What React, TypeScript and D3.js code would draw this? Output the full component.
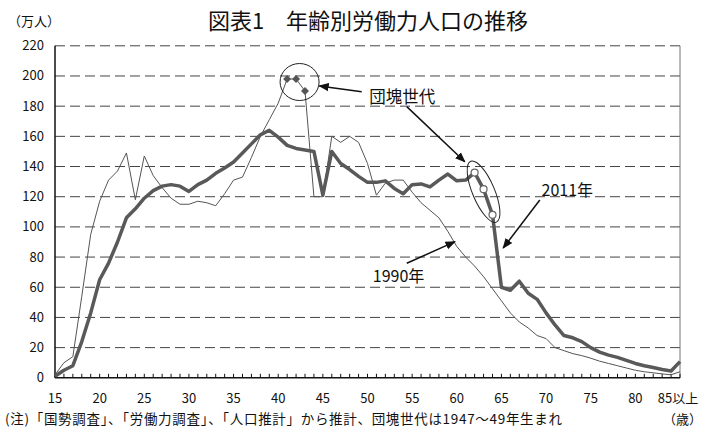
import React from "react";
import * as d3 from "d3";

// ages 15 .. 85 (85 = 85以上)
const ages = d3.range(15, 86);

// 労働力人口 (万人)
const pop1990 = [
  2, 10, 14, 54, 95, 117, 131, 137, 149, 118,
  147, 134, 126, 119, 115, 115, 117, 116, 114, 122,
  131, 133, 146, 160, 171, 182, 198, 198, 190, 120,
  120, 160, 156, 160, 156, 142, 121, 129, 131, 131,
  123, 116, 111, 106, 97, 87, 80, 74, 67, 59,
  51, 43, 37, 33, 28, 26, 20, 18, 16, 14.7,
  13, 11, 9.5, 8, 6.5, 5, 4, 3.3, 2.6, 2,
  4,
];

const pop2011 = [
  1, 5, 8, 24, 43, 65, 76, 90, 106, 112,
  119, 124, 127, 128, 127, 123.5, 128, 131, 135.5, 139,
  143, 149, 155, 161, 164, 159.5, 154, 152, 151, 150,
  121, 150, 142, 138, 133.5, 129.5, 129.5, 130.5, 125.5, 122,
  128, 128.5, 126.5, 131, 135, 130.5, 131, 136, 125, 108,
  60, 58, 64, 56, 52, 43, 35, 28, 26.5, 24,
  20, 17, 15, 13.5, 11.5, 9.5, 8, 6.8, 5.5, 4.5,
  10.7,
];

// 団塊世代 (1947〜49年生まれ)
const boom1990 = [41, 42, 43];
const boom2011 = [62, 63, 64];

const yTicks = [0, 20, 40, 60, 80, 100, 120, 140, 160, 180, 200, 220];
const xLabelAges = [15, 20, 25, 30, 35, 40, 45, 50, 55, 60, 65, 70, 75, 80, 85];

const FONT = "'Noto Sans CJK JP', 'Noto Sans', sans-serif";

export default function App() {
  const W = 715;
  const H = 428;

  const x = d3.scaleLinear().domain([15, 85]).range([55, 680]);
  const y = d3.scaleLinear().domain([0, 220]).range([377.8, 45.8]);

  const line = d3
    .line<number>()
    .x((_, i) => x(ages[i]))
    .y((d) => y(d));

  const val = (arr: number[], age: number) => arr[ages.indexOf(age)];

  // ellipse around 2011 boomers
  const e2a = [x(62), y(val(pop2011, 62))];
  const e2b = [x(64), y(val(pop2011, 64))];
  const e2cx = (e2a[0] + e2b[0]) / 2;
  const e2cy = (e2a[1] + e2b[1]) / 2 - 2;
  const e2ang = (Math.atan2(e2b[1] - e2a[1], e2b[0] - e2a[0]) * 180) / Math.PI;

  const arrows = [
    { from: [49.35, 189.6], to: [44.6, 193.4] },
    { from: [54.4, 179.7], to: [60.9, 143.2] },
    { from: [69.3, 117.8], to: [65.2, 86] },
    { from: [54.4, 75.9], to: [59.8, 90.2] },
  ];

  return (
    <svg width={W} height={H} style={{ position: "absolute", left: 0, top: 0, background: "#fff" }} fontFamily={FONT}>
      <defs>
        <marker id="ah" viewBox="0 0 10 10" refX="9" refY="5" markerWidth="7" markerHeight="7" orient="auto">
          <path d="M0,1 L10,5 L0,9 z" fill="#111" />
        </marker>
      </defs>

      {/* title */}
      <text x={368} y={29} textAnchor="middle" fontSize={22} fill="#111">
        図表1　年齢別労働力人口の推移
      </text>
      <text x={8} y={26} fontSize={13} fill="#111">（万人）</text>

      {/* gridlines */}
      {yTicks.filter((t) => t > 0).map((t) => (
        <line key={t} x1={x(15)} x2={x(85)} y1={y(t)} y2={y(t)} stroke="#444" strokeWidth={1} strokeDasharray="10,5" />
      ))}
      {/* right border */}
      <line x1={x(85)} x2={x(85)} y1={y(220)} y2={y(0)} stroke="#777" strokeWidth={1} />

      {/* y labels */}
      {yTicks.map((t) => (
        <text key={t} x={44} y={y(t) + 4.5} textAnchor="end" fontSize={13} fill="#111">
          {t}
        </text>
      ))}

      {/* axes */}
      <line x1={x(15)} x2={x(15)} y1={y(220)} y2={y(0)} stroke="#111" strokeWidth={1.5} />
      <line x1={x(15)} x2={x(85)} y1={y(0)} y2={y(0)} stroke="#111" strokeWidth={1.5} />
      {ages.map((a) => (
        <line key={a} x1={x(a)} x2={x(a)} y1={y(0)} y2={y(0) - 4} stroke="#111" strokeWidth={1} />
      ))}
      {xLabelAges.map((a) => (
        <text key={a} x={a === 85 ? x(a) - 2 : x(a)} y={403} textAnchor="middle" fontSize={13} fill="#111">
          {a === 85 ? "85以上" : a}
        </text>
      ))}

      {/* series */}
      <path d={line(pop1990) || ""} fill="none" stroke="#555" strokeWidth={1} />
      <path d={line(pop2011) || ""} fill="none" stroke="#595959" strokeWidth={3.5} strokeLinejoin="round" />

      {/* boomer markers */}
      {boom1990.map((a) => {
        const cx = x(a);
        const cy = y(val(pop1990, a));
        return <path key={a} d={`M${cx},${cy - 4}L${cx + 4},${cy}L${cx},${cy + 4}L${cx - 4},${cy}Z`} fill="#555" />;
      })}
      {boom2011.map((a) => (
        <circle key={a} cx={x(a)} cy={y(val(pop2011, a))} r={3.5} fill="#fff" stroke="#666" strokeWidth={1.2} />
      ))}

      {/* ellipses */}
      <ellipse cx={x(42) + 3.5} cy={y(196)} rx={19.5} ry={18.5} fill="none" stroke="#222" strokeWidth={1} />
      <ellipse
        cx={e2cx}
        cy={e2cy}
        rx={33}
        ry={11}
        fill="none"
        stroke="#222"
        strokeWidth={1}
        transform={`rotate(${e2ang} ${e2cx} ${e2cy})`}
      />

      {/* annotations */}
      {arrows.map((ar, i) => (
        <line
          key={i}
          x1={x(ar.from[0])}
          y1={y(ar.from[1])}
          x2={x(ar.to[0])}
          y2={y(ar.to[1])}
          stroke="#111"
          strokeWidth={1.5}
          markerEnd="url(#ah)"
        />
      ))}
      <text x={x(50.2)} y={y(182)} fontSize={16.5} fill="#111">団塊世代</text>
      <text x={x(69.5)} y={y(120.2)} fontSize={16} fill="#111">2011年</text>
      <text x={x(50.6)} y={y(63.7)} fontSize={16} fill="#111">1990年</text>

      {/* footnote */}
      <text x={5} y={424} fontSize={13.5} fill="#111" textLength={557} lengthAdjust="spacing">
        (注)「国勢調査」、「労働力調査」、「人口推計」から推計、団塊世代は1947～49年生まれ
      </text>
      <text x={663} y={424} fontSize={13} fill="#111">（歳）</text>
    </svg>
  );
}
